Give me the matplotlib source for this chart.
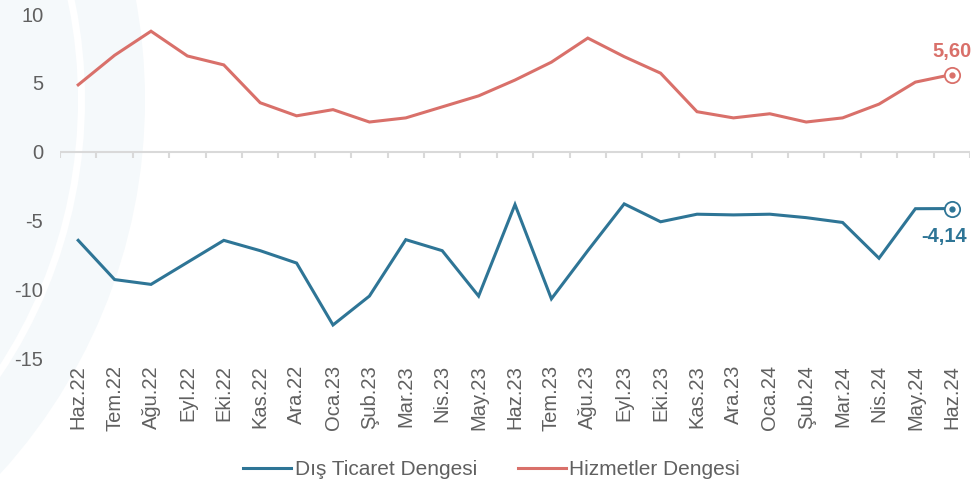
import matplotlib
matplotlib.use("Agg")
import matplotlib.pyplot as plt
from matplotlib.patches import Wedge
from matplotlib.lines import Line2D

months = ["Haz.22", "Tem.22", "Ağu.22", "Eyl.22", "Eki.22", "Kas.22", "Ara.22",
          "Oca.23", "Şub.23", "Mar.23", "Nis.23", "May.23", "Haz.23", "Tem.23",
          "Ağu.23", "Eyl.23", "Eki.23", "Kas.23", "Ara.23", "Oca.24", "Şub.24",
          "Mar.24", "Nis.24", "May.24", "Haz.24"]
dis_ticaret = [-6.45, -9.3, -9.65, -8.05, -6.45, -7.2, -8.1, -12.6, -10.5, -6.4,
               -7.2, -10.5, -3.85, -10.7, -7.2, -3.8, -5.1, -4.55, -4.6, -4.55,
               -4.8, -5.15, -7.75, -4.15, -4.14]
hizmetler = [4.85, 7.0, 8.75, 6.95, 6.3, 3.55, 2.6, 3.05, 2.15, 2.45, 3.25, 4.05,
             5.2, 6.5, 8.25, 6.9, 5.7, 2.9, 2.45, 2.75, 2.15, 2.45, 3.45, 5.05, 5.60]

BLUE = "#2e7596"
RED = "#d9706a"
GREY = "#606060"
plt.rcParams["font.family"] = ["Liberation Sans", "DejaVu Sans"]

fig = plt.figure(figsize=(9.74, 4.88), dpi=100)

# faint decorative arcs behind the chart (pixel coordinates)
bg = fig.add_axes([0, 0, 1, 1], zorder=0)
bg.set_xlim(0, 974)
bg.set_ylim(488, 0)
bg.axis("off")
bg.add_patch(Wedge((-410, 100), 555, -90, 90, width=60, color="#f5f9fb", lw=0))
bg.add_patch(Wedge((-410, 100), 488, -90, 90, width=190, color="#f5f9fb", lw=0))

ax = fig.add_axes([60 / 974, 1 - 358 / 488, 910 / 974, 344 / 488], zorder=1)
ax.patch.set_alpha(0)
x = list(range(len(months)))

ax.plot(x, dis_ticaret, color=BLUE, lw=2.2, solid_joinstyle="miter")
ax.plot(x, hizmetler, color=RED, lw=2.2, solid_joinstyle="miter")

# zero line with separators between months
ax.axhline(0, color="#d9d9d9", lw=1.5, zorder=0.5)
bounds = [i - 0.5 for i in range(len(months) + 1)]
ax.vlines(bounds, -0.45, 0, color="#d9d9d9", lw=1.5, zorder=0.5)

# end markers and labels
for vals, col, dy, label in [(hizmetler, RED, 0.95, "5,60"), (dis_ticaret, BLUE, -1.35, "-4,14")]:
    ax.plot(x[-1], vals[-1], "o", ms=11, mfc="white", mec=col, mew=1.3, zorder=3)
    ax.plot(x[-1], vals[-1], "o", ms=3.5, color=col, zorder=4)
    ax.text(x[-1] + (0.0 if dy > 0 else -0.2), vals[-1] + dy, label, color=col,
            fontsize=14.5, fontweight="bold", ha="center",
            va="bottom" if dy > 0 else "top")

ax.set_xlim(-0.5, len(months) - 0.5)
ax.set_ylim(-15, 10)
ax.set_yticks([-15, -10, -5, 0, 5, 10])
ax.set_yticklabels(["-15", "-10", "-5", "0", "5", "10"])
ax.set_xticks(x)
ax.set_xticklabels(months, rotation=90)
ax.tick_params(axis="both", length=0, labelsize=14.5, labelcolor=GREY)
ax.tick_params(axis="y", pad=12)
ax.tick_params(axis="x", pad=5)
for s in ax.spines.values():
    s.set_visible(False)

handles = [Line2D([], [], color=BLUE, lw=2.2), Line2D([], [], color=RED, lw=2.2)]
fig.legend(handles, ["Dış Ticaret Dengesi", "Hizmetler Dengesi"], loc="lower center",
           bbox_to_anchor=(0.505, -0.02), ncol=2, frameon=False, fontsize=15,
           handlelength=2.3, handletextpad=0.15, columnspacing=2.0,
           labelcolor=GREY)

fig.savefig("out.png", dpi=100)
